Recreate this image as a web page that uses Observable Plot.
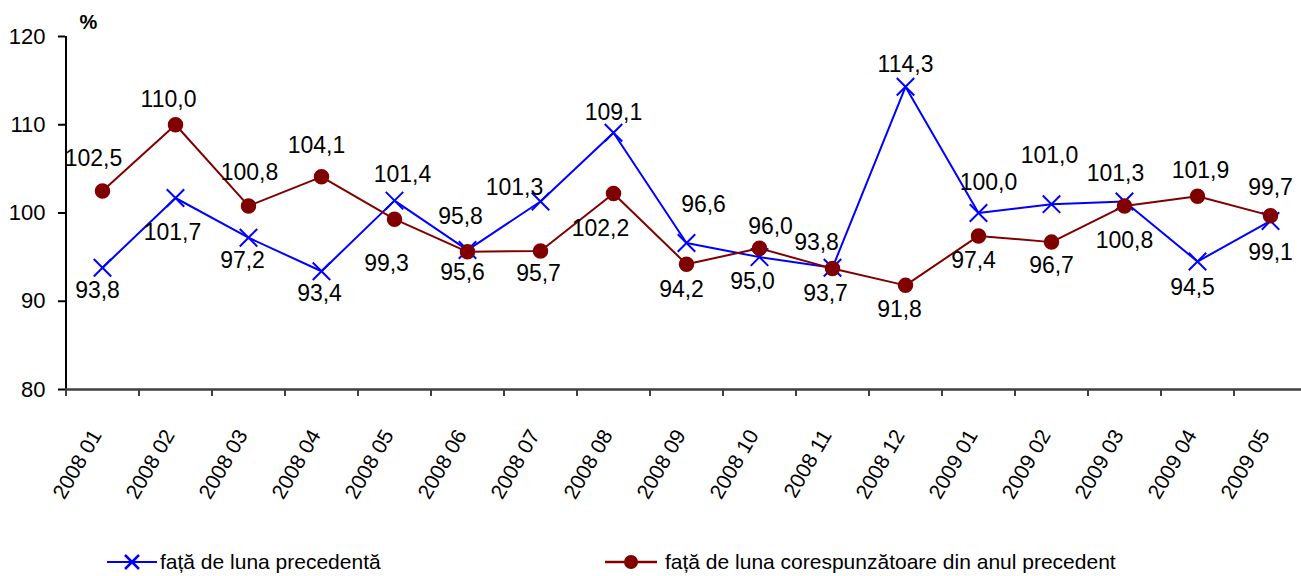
<!DOCTYPE html>
<html>
<head>
<meta charset="utf-8">
<script src="https://cdn.jsdelivr.net/npm/d3@7"></script>
<script src="https://cdn.jsdelivr.net/npm/@observablehq/plot@0.6"></script>
<style>
  html, body { margin: 0; padding: 0; background: #fff; overflow: hidden; }
  #wrap { position: relative; width: 1301px; height: 576px; font-family: "Liberation Sans", Arial, sans-serif; }
  #chart svg { display: block; }
  .leg { position: absolute; top: 549px; height: 26px; display: flex; align-items: center; font-size: 21px; color: #000; white-space: nowrap; }
  .leg svg { display: block; margin-right: 3px; }
</style>
</head>
<body>
<div id="wrap">
  <div id="chart"></div>
  <div class="leg" id="leg1" style="left:107px"></div>
  <div class="leg" id="leg2" style="left:605px"></div>
</div>
<script>
// ---- data ----
const months = ["2008 01","2008 02","2008 03","2008 04","2008 05","2008 06","2008 07","2008 08","2008 09","2008 10","2008 11","2008 12","2009 01","2009 02","2009 03","2009 04","2009 05"];
const prevMonth = [93.8, 101.7, 97.2, 93.4, 101.4, 95.8, 101.3, 109.1, 96.6, 95.0, 93.8, 114.3, 100.0, 101.0, 101.3, 94.5, 99.1];
const prevYear  = [102.5, 110.0, 100.8, 104.1, 99.3, 95.6, 95.7, 102.2, 94.2, 96.0, 93.7, 91.8, 97.4, 96.7, 100.8, 101.9, 99.7];
const yTicks = [80, 90, 100, 110, 120];
const seriesNames = ["față de luna precedentă", "față de luna corespunzătoare din anul precedent"];

// ---- layout (label offsets in px, not data) ----
const blueOff = [[-5,23],[-3,35],[-6,23],[-2,22],[8,-26],[-7,-33],[-26,-14],[0,-20],[17,-38],[-7,24],[-16,-25],[0,-22],[10,-30],[-2,-49],[-9,-28],[-5,26],[0,32]];
const redOff  = [[-9,-32],[-7,-25],[1,-33],[-5,-31],[-8,44],[-5,21],[-2,23],[-13,35],[-5,25],[11,-22],[-7,25],[-6,24],[-5,25],[0,24],[0,35],[3,-26],[0,-28]];

const BLUE = "#0000ff", RED = "#800000";
const fmt = v => v.toFixed(1).replace(".", ",");
const blueRows = months.map((m, i) => ({i: i + 0.5, v: prevMonth[i]}));
const redRows = months.map((m, i) => ({i: i + 0.5, v: prevYear[i]}));

const labelMarks = (rows, offs) => rows.map((d, k) =>
  Plot.text([d], {x: "i", y: "v", text: r => fmt(r.v), dx: offs[k][0], dy: offs[k][1], fontSize: 23, fill: "#000"}));

const chart = Plot.plot({
  width: 1301,
  height: 530,
  marginLeft: 65,
  marginRight: 0,
  marginTop: 36,
  marginBottom: 141,
  style: {fontFamily: "'Liberation Sans', Arial, sans-serif", fontSize: "21px", color: "#000", background: "#fff", overflow: "hidden"},
  x: {type: "linear", domain: [0, months.length], range: [65.5, 65.5 + 73 * months.length]},
  y: {domain: [80, 120], range: [389, 36]},
  marks: [
    Plot.axisY(yTicks, {tickSize: 7, tickPadding: 13, fontSize: 22, tickFormat: d => String(d), label: null, strokeWidth: 2}),
    Plot.ruleX([0], {y1: 80, y2: 120, stroke: "#000", strokeWidth: 2}),
    Plot.axisX(d3.range(months.length + 1), {tickSize: 7, tickFormat: () => "", label: null, stroke: "#404040", strokeWidth: 2}),
    Plot.axisX(months.map((m, i) => i + 0.5), {tickSize: 0, tickPadding: 42, dx: -6, tickRotate: -60, fontSize: 21, tickFormat: d => months[Math.floor(d)], label: null}),
    Plot.ruleY([80], {stroke: "#404040", strokeWidth: 2.5}),
    Plot.text(["%"], {frameAnchor: "top-left", dx: 14, dy: -22, fontWeight: "bold", fontSize: 20, fill: "#000"}),
    Plot.line(blueRows, {x: "i", y: "v", stroke: BLUE, strokeWidth: 2}),
    Plot.dot(blueRows, {x: "i", y: "v", symbol: "times", r: 8, stroke: BLUE, strokeWidth: 2}),
    Plot.line(redRows, {x: "i", y: "v", stroke: RED, strokeWidth: 2}),
    Plot.dot(redRows, {x: "i", y: "v", symbol: "circle", r: 7, fill: RED, stroke: RED}),
    ...labelMarks(blueRows, blueOff),
    ...labelMarks(redRows, redOff)
  ]
});
document.getElementById("chart").appendChild(chart);

// legend
document.getElementById("leg1").innerHTML =
  `<svg width="50" height="20"><line x1="0" y1="10" x2="50" y2="10" stroke="${BLUE}" stroke-width="2"/>` +
  `<path d="M18,3L32,17M32,3L18,17" stroke="${BLUE}" stroke-width="2.5"/></svg><span>${seriesNames[0]}</span>`;
document.getElementById("leg2").innerHTML =
  `<svg width="52" height="20"><line x1="0" y1="10" x2="52" y2="10" stroke="${RED}" stroke-width="2.5"/>` +
  `<circle cx="26" cy="10" r="7" fill="${RED}"/></svg><span style="margin-left:5px">${seriesNames[1]}</span>`;
</script>
</body>
</html>
